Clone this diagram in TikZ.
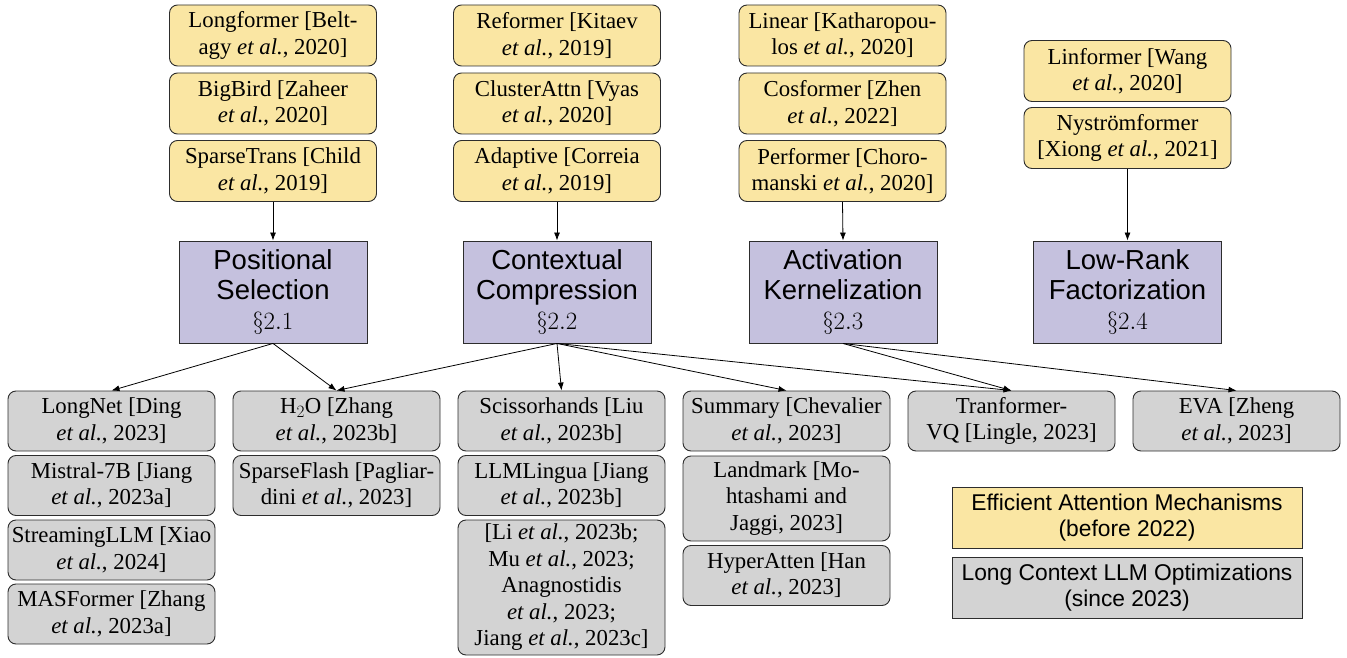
\documentclass[tikz,border=0pt]{standalone}
\usepackage[no-math]{fontspec}
\setmainfont{Liberation Serif}
\setsansfont{Liberation Sans}
\newfontfamily\timesrm{Liberation Serif}
\newfontfamily\arialsf{Liberation Sans}
\usetikzlibrary{arrows.meta}
\definecolor{oldyellow}{RGB}{250,230,163}
\definecolor{newgray}{RGB}{211,211,211}
\definecolor{catpurple}{RGB}{197,193,222}
\definecolor{edgegray}{RGB}{45,45,45}
\newcommand\myreffont{\timesrm\fontsize{22.8}{26.5}\selectfont}
\newcommand\mycatfont{\arialsf\fontsize{27.5}{30}\selectfont}
\newcommand\mylegfont{\arialsf\fontsize{22.8}{26}\selectfont}
\tikzset{
  refbox/.style={draw=edgegray, line width=0.9pt, rounded corners=8pt, align=center,
    inner xsep=2pt, inner ysep=0pt, minimum width=207pt, font=\myreffont},
  oldbox/.style={refbox, fill=oldyellow},
  newbox/.style={refbox, fill=newgray},
  catbox/.style={draw=edgegray, line width=0.9pt, fill=catpurple, minimum width=188pt,
    minimum height=102pt, align=center, inner sep=0pt, font=\mycatfont},
  legbox/.style={draw=edgegray, line width=0.9pt, minimum width=350pt, minimum height=61pt,
    align=center, inner sep=0pt, font=\mylegfont},
  arr/.style={-{Latex[length=8pt,width=6pt]}, line width=0.8pt, black}
}
\begin{document}
\begin{tikzpicture}[x=1pt,y=-1pt]
\useasboundingbox (0,0) rectangle (1347,658);
% top column 1
\node[oldbox, minimum height=61pt] (a1) at (273,35.5) {Longformer [Belt-\\agy \emph{et al.}, 2020]};
\node[oldbox, minimum height=61pt] (a2) at (273,103.5) {BigBird [Zaheer\\\emph{et al.}, 2020]};
\node[oldbox, minimum height=61pt] (a3) at (273,171) {SparseTrans [Child\\\emph{et al.}, 2019]};
% top column 2
\node[oldbox, minimum height=61pt] (b1) at (557,35.5) {Reformer [Kitaev\\\emph{et al.}, 2019]};
\node[oldbox, minimum height=61pt] (b2) at (557,103.5) {ClusterAttn [Vyas\\\emph{et al.}, 2020]};
\node[oldbox, minimum height=61pt] (b3) at (557,171) {Adaptive [Correia\\\emph{et al.}, 2019]};
% top column 3
\node[oldbox, minimum height=61pt] (c1) at (842.5,35.5) {Linear [Katharopou-\\los \emph{et al.}, 2020]};
\node[oldbox, minimum height=61pt] (c2) at (842.5,103.5) {Cosformer [Zhen\\\emph{et al.}, 2022]};
\node[oldbox, minimum height=61pt] (c3) at (842.5,171) {Performer [Choro-\\manski \emph{et al.}, 2020]};
% top column 4
\node[oldbox, minimum height=61pt] (d1) at (1127.5,71) {Linformer [Wang\\\emph{et al.}, 2020]};
\node[oldbox, minimum height=61pt] (d2) at (1127.5,138) {Nyströmformer\\{}[Xiong \emph{et al.}, 2021]};
% categories
\node[catbox] (ps) at (273,292) {Positional\\Selection\\$\S2.1$};
\node[catbox] (cc) at (557,292) {Contextual\\Compression\\$\S2.2$};
\node[catbox] (ak) at (843,292) {Activation\\Kernelization\\$\S2.3$};
\node[catbox] (lr) at (1127.5,292) {Low-Rank\\Factorization\\$\S2.4$};
% bottom column A
\node[newbox, minimum height=60pt] (e1) at (111.5,421) {LongNet [Ding\\\emph{et al.}, 2023]};
\node[newbox, minimum height=60pt] (e2) at (111.5,485.5) {Mistral-7B [Jiang\\\emph{et al.}, 2023a]};
\node[newbox, minimum height=60pt] (e3) at (111.5,550) {StreamingLLM [Xiao\\\emph{et al.}, 2024]};
\node[newbox, minimum height=60pt] (e4) at (111.5,614) {MASFormer [Zhang\\\emph{et al.}, 2023a]};
% bottom column B
\node[newbox, minimum height=60pt] (f1) at (336.5,421) {H$_2$O [Zhang\\\emph{et al.}, 2023b]};
\node[newbox, minimum height=60pt] (f2) at (336.5,485.5) {SparseFlash [Pagliar-\\dini \emph{et al.}, 2023]};
% bottom column C
\node[newbox, minimum height=60pt] (g1) at (561.5,421) {Scissorhands [Liu\\\emph{et al.}, 2023b]};
\node[newbox, minimum height=60pt] (g2) at (561.5,485.5) {LLMLingua [Jiang\\\emph{et al.}, 2023b]};
\node[newbox, minimum height=135pt] (g3) at (561.5,587.5) {{[}Li \emph{et al.}, 2023b;\\Mu \emph{et al.}, 2023;\\Anagnostidis\\\emph{et al.}, 2023;\\Jiang \emph{et al.}, 2023c]};
% bottom column D
\node[newbox, minimum height=60pt] (h1) at (786.5,421) {Summary [Chevalier\\\emph{et al.}, 2023]};
\node[newbox, minimum height=85pt] (h2) at (786.5,498.5) {Landmark [Mo-\\htashami and\\Jaggi, 2023]};
\node[newbox, minimum height=60pt] (h3) at (786.5,575.5) {HyperAtten [Han\\\emph{et al.}, 2023]};
% bottom columns E, F
\node[newbox, minimum height=60pt] (i1) at (1011.5,421) {Tranformer-\\VQ [Lingle, 2023]};
\node[newbox, minimum height=60pt] (j1) at (1236.5,421) {EVA [Zheng\\\emph{et al.}, 2023]};
% legend
\node[legbox, fill=oldyellow] (l1) at (1127,517.5) {Efficient Attention Mechanisms\\(before 2022)};
\node[legbox, fill=newgray] (l2) at (1127,587.5) {Long Context LLM Optimizations\\(since 2023)};
% connectors
\draw[arr] (a3.south) -- (ps.north);
\draw[arr] (b3.south) -- (cc.north);
\draw[arr] (c3.south) -- (ak.north);
\draw[arr] (d2.south) -- (lr.north);
\draw[arr] (ps.south) -- (e1.north);
\draw[arr] (ps.south) -- (f1.north);
\draw[arr] (cc.south) -- (f1.north);
\draw[arr] (cc.south) -- (g1.north);
\draw[arr] (cc.south) -- (h1.north);
\draw[arr] (cc.south) -- (i1.north);
\draw[arr] (ak.south) -- (i1.north);
\draw[arr] (ak.south) -- (j1.north);
\end{tikzpicture}
\end{document}
